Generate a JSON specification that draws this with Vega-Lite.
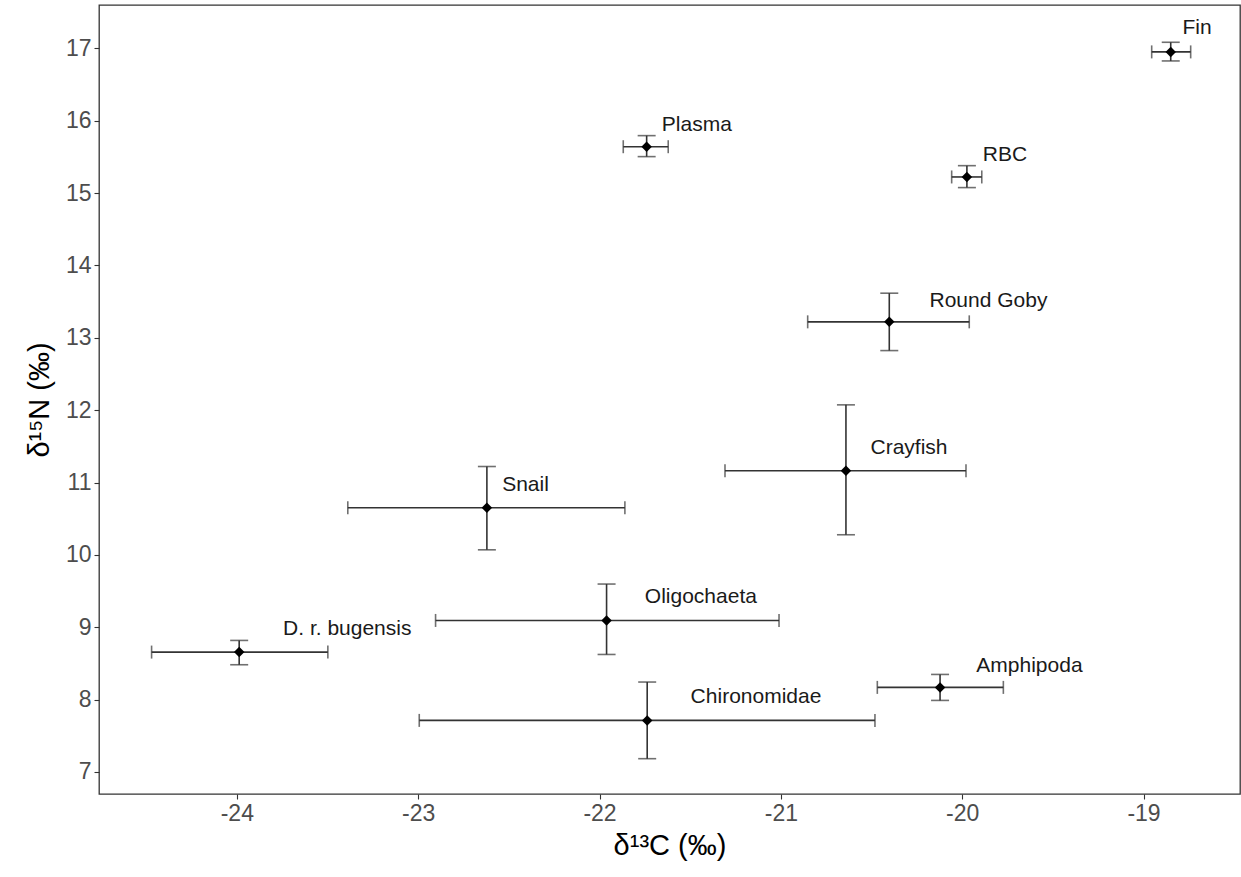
{
  "$schema": "https://vega.github.io/schema/vega-lite/v6.json",
  "width": 1141,
  "height": 789,
  "autosize": {"type": "none"},
  "padding": {"left": 99, "top": 5, "right": 1, "bottom": 83},
  "background": "white",
  "config": {
    "view": {"stroke": "#333333", "strokeWidth": 1.3},
    "axis": {
      "grid": false,
      "domain": false,
      "tickSize": 5,
      "tickColor": "#333333",
      "tickWidth": 1.1,
      "labelFont": "Liberation Sans",
      "labelFontSize": 23,
      "labelColor": "#4D4D4D",
      "labelPadding": 3,
      "titleFont": "Liberation Sans",
      "titleFontSize": 29,
      "titleFontWeight": "normal",
      "titleColor": "#000000"
    }
  },
  "data": {
    "values": [
      {"name": "Fin", "x": -18.85, "y": 16.95, "xmin": -18.955, "xmax": -18.74, "ymin": 16.825, "ymax": 17.083, "lx": -18.705, "ly": 17.28},
      {"name": "Plasma", "x": -21.74, "y": 15.64, "xmin": -21.869, "xmax": -21.621, "ymin": 15.503, "ymax": 15.793, "lx": -21.463, "ly": 15.94},
      {"name": "RBC", "x": -19.974, "y": 15.222, "xmin": -20.058, "xmax": -19.892, "ymin": 15.075, "ymax": 15.378, "lx": -19.764, "ly": 15.53},
      {"name": "Round Goby", "x": -20.402, "y": 13.22, "xmin": -20.852, "xmax": -19.961, "ymin": 12.823, "ymax": 13.616, "lx": -19.855, "ly": 13.51},
      {"name": "Crayfish", "x": -20.641, "y": 11.162, "xmin": -21.308, "xmax": -19.979, "ymin": 10.278, "ymax": 12.073, "lx": -20.293, "ly": 11.48},
      {"name": "Snail", "x": -22.621, "y": 10.651, "xmin": -23.388, "xmax": -21.86, "ymin": 10.07, "ymax": 11.221, "lx": -22.408, "ly": 10.97},
      {"name": "Oligochaeta", "x": -21.961, "y": 9.094, "xmin": -22.904, "xmax": -21.01, "ymin": 8.624, "ymax": 9.597, "lx": -21.441, "ly": 9.42},
      {"name": "D. r. bugensis", "x": -23.987, "y": 8.657, "xmin": -24.47, "xmax": -23.498, "ymin": 8.482, "ymax": 8.818, "lx": -23.391, "ly": 8.97},
      {"name": "Chironomidae", "x": -21.737, "y": 7.713, "xmin": -22.994, "xmax": -20.481, "ymin": 7.184, "ymax": 8.243, "lx": -21.137, "ly": 8.03},
      {"name": "Amphipoda", "x": -20.122, "y": 8.169, "xmin": -20.468, "xmax": -19.773, "ymin": 7.989, "ymax": 8.348, "lx": -19.629, "ly": 8.47}
    ]
  },
  "layer": [
    {
      "mark": {"type": "rule", "color": "#333333", "strokeWidth": 1.6},
      "encoding": {
        "x": {"field": "xmin", "type": "quantitative", "title": "δ¹³C (‰)",
              "scale": {"domain": [-24.76, -18.468], "nice": false, "zero": false},
              "axis": {"values": [-24, -23, -22, -21, -20, -19], "labelExpr": "toString(datum.value)", "titlePadding": 6}},
        "x2": {"field": "xmax"},
        "y": {"field": "y", "type": "quantitative", "title": "δ¹⁵N (‰)",
              "scale": {"domain": [6.696, 17.598], "nice": false, "zero": false},
              "axis": {"values": [7, 8, 9, 10, 11, 12, 13, 14, 15, 16, 17], "labelExpr": "toString(datum.value)", "titlePadding": 11}}
      }
    },
    {
      "mark": {"type": "rule", "color": "#333333", "strokeWidth": 1.6},
      "encoding": {
        "x": {"field": "x", "type": "quantitative", "title": "δ¹³C (‰)"},
        "y": {"field": "ymin", "type": "quantitative", "title": "δ¹⁵N (‰)"},
        "y2": {"field": "ymax"}
      }
    },
    {
      "mark": {"type": "tick", "orient": "vertical", "color": "#333333", "size": 13, "thickness": 1.6},
      "encoding": {
        "x": {"field": "xmin", "type": "quantitative", "title": "δ¹³C (‰)"},
        "y": {"field": "y", "type": "quantitative", "title": "δ¹⁵N (‰)"}
      }
    },
    {
      "mark": {"type": "tick", "orient": "vertical", "color": "#333333", "size": 13, "thickness": 1.6},
      "encoding": {
        "x": {"field": "xmax", "type": "quantitative", "title": "δ¹³C (‰)"},
        "y": {"field": "y", "type": "quantitative", "title": "δ¹⁵N (‰)"}
      }
    },
    {
      "mark": {"type": "tick", "orient": "horizontal", "color": "#333333", "size": 18, "thickness": 1.6},
      "encoding": {
        "x": {"field": "x", "type": "quantitative", "title": "δ¹³C (‰)"},
        "y": {"field": "ymin", "type": "quantitative", "title": "δ¹⁵N (‰)"}
      }
    },
    {
      "mark": {"type": "tick", "orient": "horizontal", "color": "#333333", "size": 18, "thickness": 1.6},
      "encoding": {
        "x": {"field": "x", "type": "quantitative", "title": "δ¹³C (‰)"},
        "y": {"field": "ymax", "type": "quantitative", "title": "δ¹⁵N (‰)"}
      }
    },
    {
      "mark": {"type": "point", "shape": "diamond", "filled": true, "color": "#000000", "size": 110, "opacity": 1},
      "encoding": {
        "x": {"field": "x", "type": "quantitative", "title": "δ¹³C (‰)"},
        "y": {"field": "y", "type": "quantitative", "title": "δ¹⁵N (‰)"}
      }
    },
    {
      "mark": {"type": "text", "font": "Liberation Sans", "fontSize": 21, "color": "#1A1A1A", "align": "center", "baseline": "middle"},
      "encoding": {
        "x": {"field": "lx", "type": "quantitative", "title": "δ¹³C (‰)"},
        "y": {"field": "ly", "type": "quantitative", "title": "δ¹⁵N (‰)"},
        "text": {"field": "name", "type": "nominal"}
      }
    }
  ]
}
